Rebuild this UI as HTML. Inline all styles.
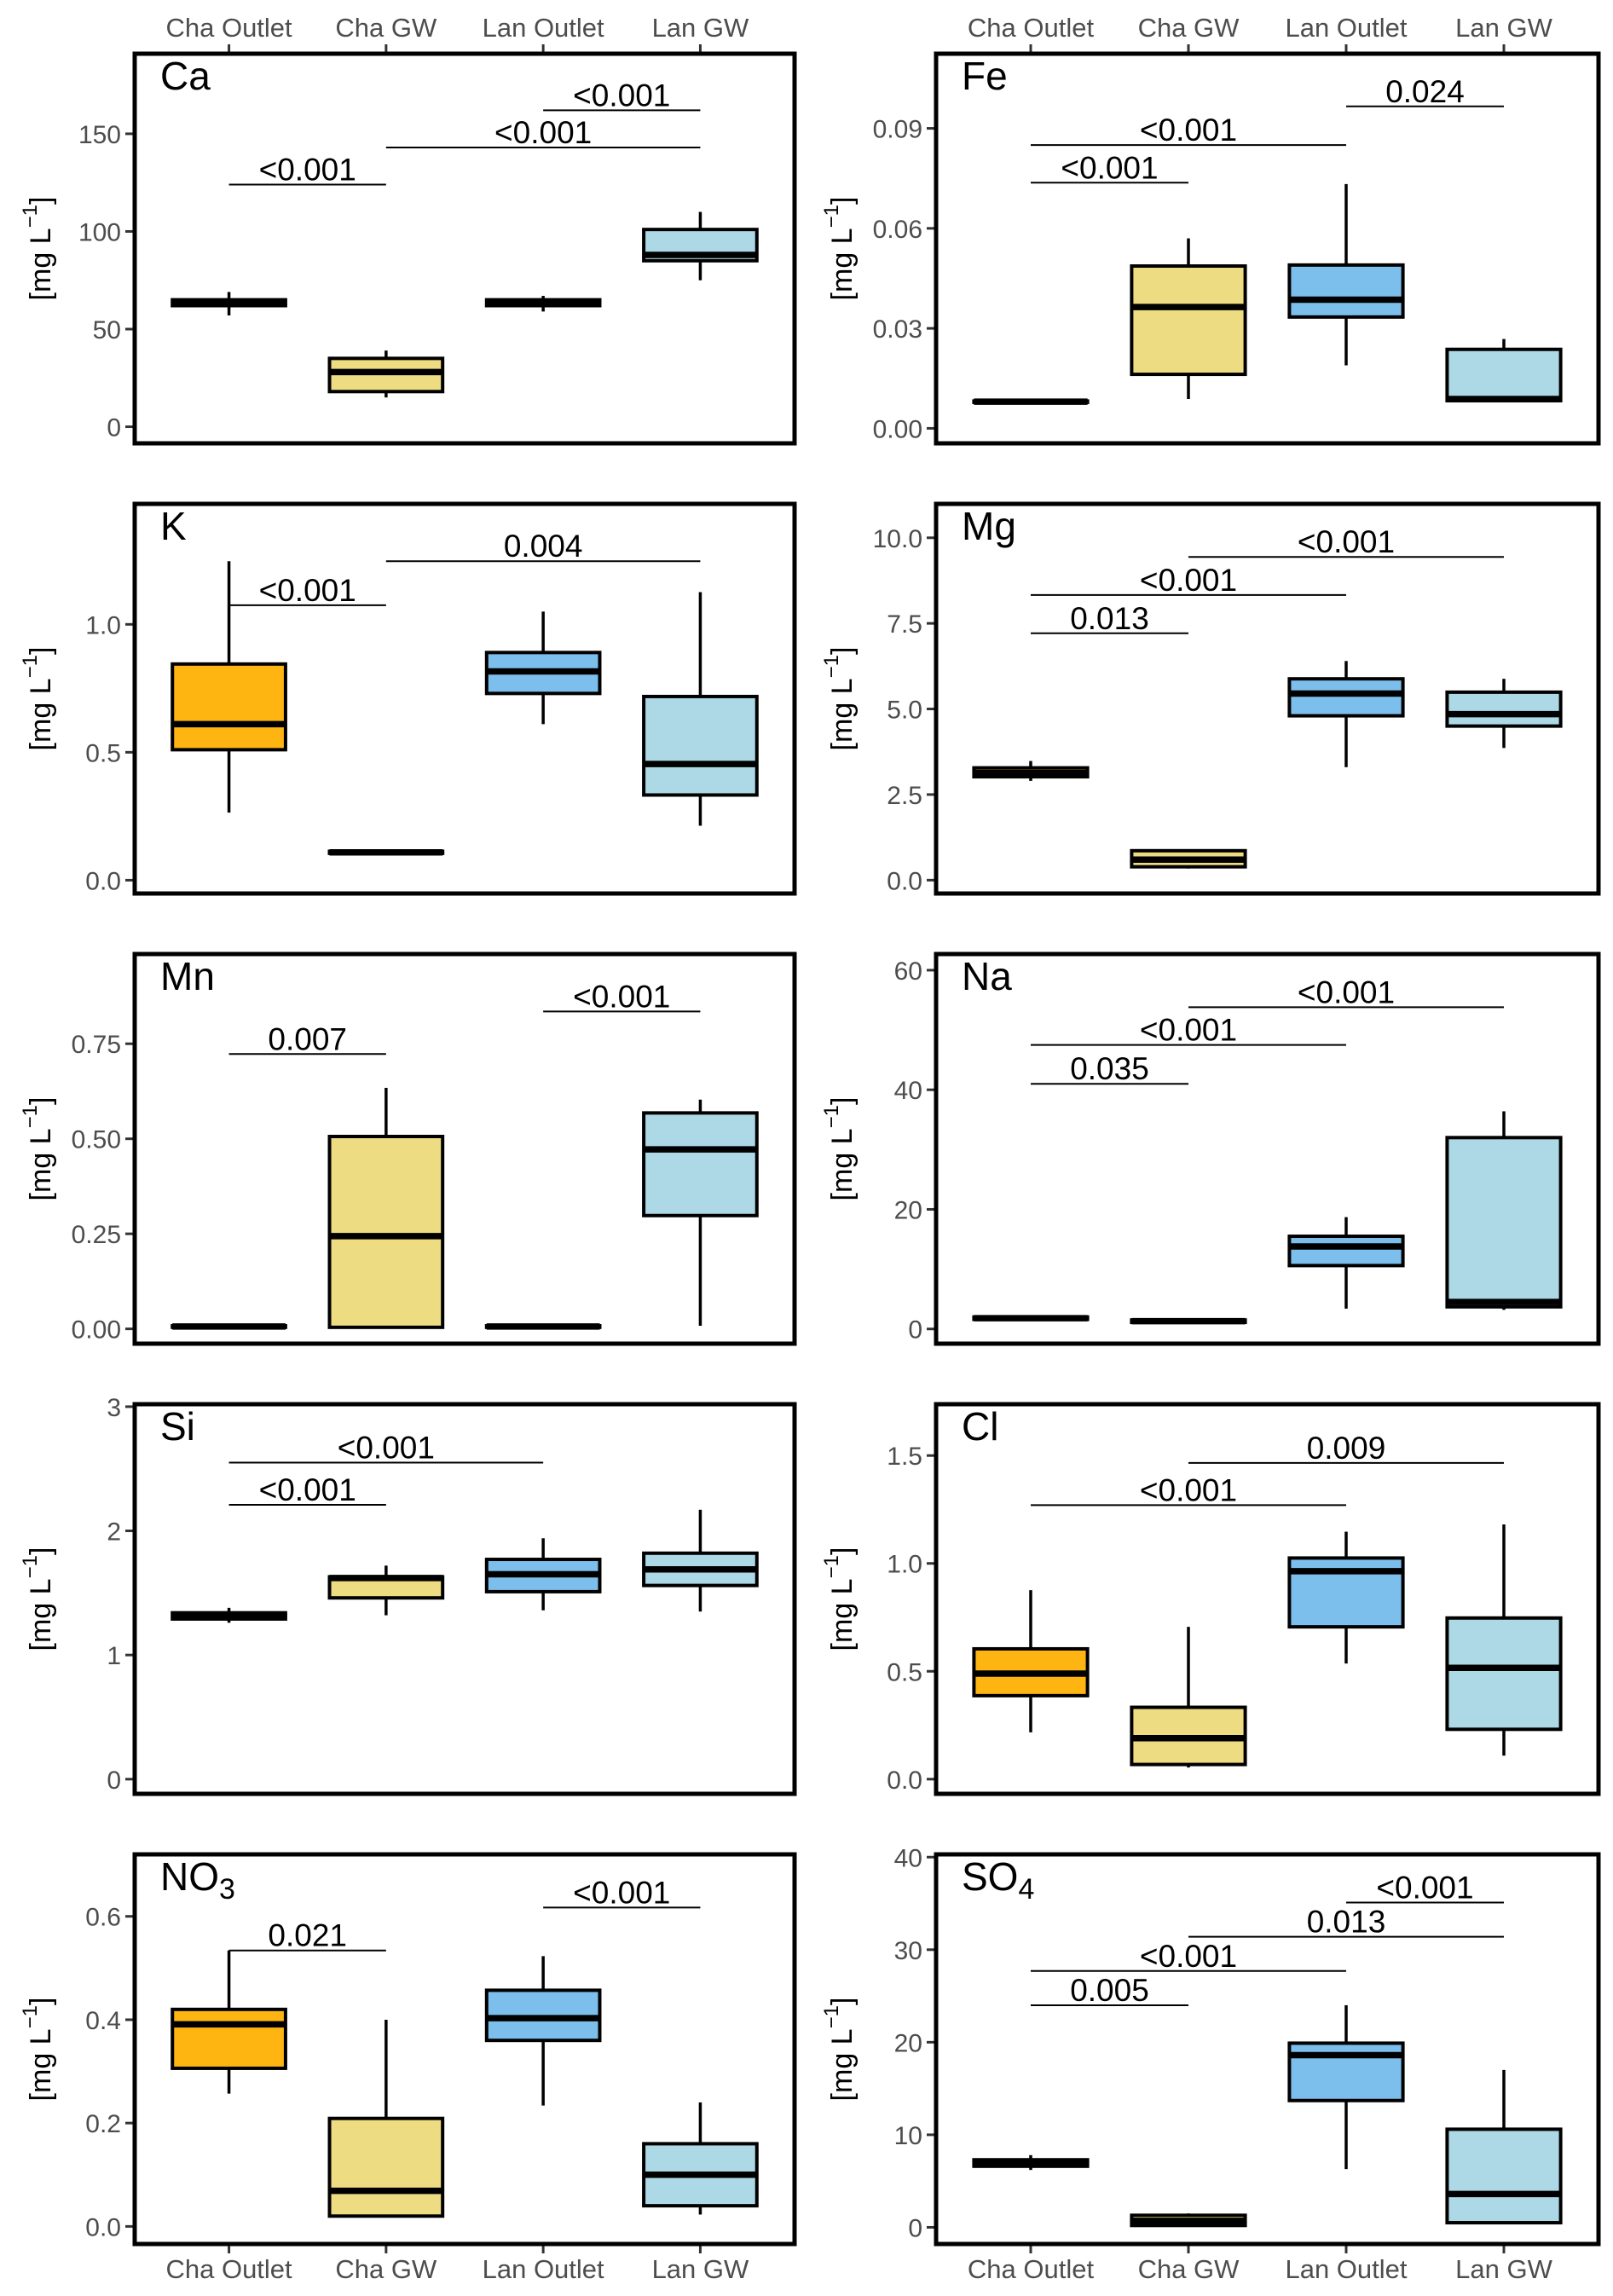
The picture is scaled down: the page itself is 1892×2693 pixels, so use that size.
<!DOCTYPE html>
<html><head><meta charset="utf-8">
<style>
html,body{margin:0;padding:0;background:#fff;}
svg{display:block;font-family:"Liberation Sans",sans-serif;}
</style></head>
<body>
<svg id="chart" width="1892" height="2693" viewBox="0 0 1892 2693" xmlns="http://www.w3.org/2000/svg"></svg>
<script>
const categories = ["Cha Outlet","Cha GW","Lan Outlet","Lan GW"];
const fills = ["#FFB511","#EEDC82","#7DBFEC","#ADD8E6"];

// five-number summaries per category: [lowWhisker, q1, median, q3, highWhisker]
const caBox = [[57,62,63,65,69],[15,18,28,35,39],[59,62,63,65,67],[75,85,88,101,110]];
const feBox = [[0.0078,0.0078,0.008,0.0082,0.0082],[0.0088,0.0162,0.0364,0.0487,0.057],[0.0189,0.0334,0.0386,0.049,0.0733],[0.0083,0.0083,0.0088,0.0237,0.0268]];
const kBox = [[0.264,0.51,0.61,0.845,1.247],[0.105,0.105,0.109,0.113,0.113],[0.61,0.73,0.816,0.89,1.05],[0.213,0.333,0.454,0.718,1.126]];
const mgBox = [[2.9,3.02,3.13,3.28,3.48],[0.34,0.39,0.6,0.86,0.9],[3.3,4.8,5.45,5.88,6.4],[3.86,4.5,4.85,5.49,5.88]];
const mnBox = [[0.004,0.004,0.006,0.008,0.008],[0.004,0.004,0.244,0.506,0.634],[0.004,0.004,0.006,0.008,0.008],[0.008,0.298,0.472,0.568,0.603]];
const naBox = [[1.5,1.6,1.8,2.0,2.1],[1.0,1.1,1.3,1.5,1.6],[3.4,10.6,13.8,15.5,18.7],[3.2,3.7,4.5,32,36.4]];
const siBox = [[1.26,1.29,1.31,1.34,1.38],[1.32,1.46,1.62,1.63,1.72],[1.36,1.51,1.65,1.77,1.94],[1.35,1.56,1.69,1.82,2.17]];
const clBox = [[0.217,0.387,0.489,0.604,0.876],[0.054,0.068,0.19,0.333,0.706],[0.536,0.706,0.964,1.025,1.147],[0.109,0.231,0.516,0.747,1.181]];
const no3Box = [[0.257,0.306,0.391,0.42,0.534],[0.02,0.02,0.069,0.209,0.4],[0.234,0.36,0.403,0.457,0.523],[0.023,0.04,0.1,0.16,0.24]];
const so4Box = [[6.2,6.6,7.0,7.3,7.8],[0.2,0.2,0.7,1.3,1.5],[6.3,13.7,18.6,19.9,24],[0.5,0.5,3.6,10.6,17]];

// y-axis ticks
const caTicks = [0,50,100,150];
const feTicks = [0,0.03,0.06,0.09];
const feTickLabels = ["0.00","0.03","0.06","0.09"];
const kTicks = [0,0.5,1.0];
const kTickLabels = ["0.0","0.5","1.0"];
const mgTicks = [0,2.5,5,7.5,10];
const mgTickLabels = ["0.0","2.5","5.0","7.5","10.0"];
const mnTicks = [0,0.25,0.5,0.75];
const mnTickLabels = ["0.00","0.25","0.50","0.75"];
const naTicks = [0,20,40,60];
const siTicks = [0,1,2,3];
const clTicks = [0,0.5,1.0,1.5];
const clTickLabels = ["0.0","0.5","1.0","1.5"];
const no3Ticks = [0,0.2,0.4,0.6];
const no3TickLabels = ["0.0","0.2","0.4","0.6"];
const so4Ticks = [0,10,20,30,40];

// significance brackets: [fromIndex, toIndex, yValue, label]
const caSig = [[0,1,124,"<0.001"],[1,3,143,"<0.001"],[2,3,162,"<0.001"]];
const feSig = [[0,1,0.0737,"<0.001"],[0,2,0.085,"<0.001"],[2,3,0.0966,"0.024"]];
const kSig = [[0,1,1.075,"<0.001"],[1,3,1.247,"0.004"]];
const mgSig = [[0,1,7.21,"0.013"],[0,2,8.33,"<0.001"],[1,3,9.44,"<0.001"]];
const mnSig = [[0,1,0.723,"0.007"],[2,3,0.835,"<0.001"]];
const naSig = [[0,1,41,"0.035"],[0,2,47.5,"<0.001"],[1,3,53.8,"<0.001"]];
const siSig = [[0,1,2.21,"<0.001"],[0,2,2.55,"<0.001"]];
const clSig = [[0,2,1.27,"<0.001"],[1,3,1.466,"0.009"]];
const no3Sig = [[0,1,0.534,"0.021"],[2,3,0.617,"<0.001"]];
const so4Sig = [[0,1,24,"0.005"],[0,2,27.7,"<0.001"],[1,3,31.4,"0.013"],[2,3,35.1,"<0.001"]];

// y domains
const caDomain = [-8.5,191];
const feDomain = [-0.0045,0.1124];
const kDomain = [-0.052,1.471];
const mgDomain = [-0.39,10.99];
const mnDomain = [-0.039,0.986];
const naDomain = [-2.46,62.7];
const siDomain = [-0.118,3.02];
const clDomain = [-0.068,1.738];
const no3Domain = [-0.034,0.72];
const so4Domain = [-1.8,40.3];

const panels = [
 {id:"ca", title:"Ca", sub:"", box:caBox, ticks:caTicks, labels:null, sig:caSig, dom:caDomain, col:0,row:0},
 {id:"fe", title:"Fe", sub:"", box:feBox, ticks:feTicks, labels:feTickLabels, sig:feSig, dom:feDomain, col:1,row:0},
 {id:"k", title:"K", sub:"", box:kBox, ticks:kTicks, labels:kTickLabels, sig:kSig, dom:kDomain, col:0,row:1},
 {id:"mg", title:"Mg", sub:"", box:mgBox, ticks:mgTicks, labels:mgTickLabels, sig:mgSig, dom:mgDomain, col:1,row:1},
 {id:"mn", title:"Mn", sub:"", box:mnBox, ticks:mnTicks, labels:mnTickLabels, sig:mnSig, dom:mnDomain, col:0,row:2},
 {id:"na", title:"Na", sub:"", box:naBox, ticks:naTicks, labels:null, sig:naSig, dom:naDomain, col:1,row:2},
 {id:"si", title:"Si", sub:"", box:siBox, ticks:siTicks, labels:null, sig:siSig, dom:siDomain, col:0,row:3},
 {id:"cl", title:"Cl", sub:"", box:clBox, ticks:clTicks, labels:clTickLabels, sig:clSig, dom:clDomain, col:1,row:3},
 {id:"no3", title:"NO", sub:"3", box:no3Box, ticks:no3Ticks, labels:no3TickLabels, sig:no3Sig, dom:no3Domain, col:0,row:4},
 {id:"so4", title:"SO", sub:"4", box:so4Box, ticks:so4Ticks, labels:null, sig:so4Sig, dom:so4Domain, col:1,row:4}
];

const NS = "http://www.w3.org/2000/svg";
const svg = document.getElementById("chart");
function mk(tag, attrs, parent){
  const e = document.createElementNS(NS, tag);
  for (const k in attrs) e.setAttribute(k, attrs[k]);
  (parent||svg).appendChild(e);
  return e;
}
const colX = [158,1098], colW = [774,777];
const rowY = [63,591,1119,1647,2175], H = 457;

panels.forEach(p => {
  const L = colX[p.col], W = colW[p.col], T = rowY[p.row], B = T + H;
  const step = W / 4.2;
  const xs = i => L + step*(0.6 + i);
  const ys = v => B - (v - p.dom[0])/(p.dom[1]-p.dom[0]) * H;
  const g = mk("g", {});
  
  

  // y ticks
  p.ticks.forEach((t, i) => {
    const y = ys(t);
    const tk = mk("line", {x1:L-11, x2:L, y1:y, y2:y, stroke:"#333", "stroke-width":3}, g);
    
    
    const tx = mk("text", {x:L-16, y:y+11, "text-anchor":"end", "font-size":30, fill:"#4D4D4D"}, g);
    
    
    tx.textContent = p.labels ? p.labels[i] : String(t);
  });

  // y axis title
  const yx = p.col === 0 ? 50 : 990, yc = T + H/2;
  const yt = mk("text", {x:yx, y:yc, transform:`rotate(-90 ${yx} ${yc})`, "text-anchor":"middle", "font-size":34, fill:"#000", "dominant-baseline":"middle"}, g);
  
  
  yt.innerHTML = '[mg L<tspan dy="-13" font-size="24">−1</tspan><tspan dy="13">]</tspan>';

  // x ticks/labels
  if (p.row === 0 || p.row === 4) {
    categories.forEach((c, i) => {
      const x = xs(i);
      const top = p.row === 0;
      const tk = mk("line", {x1:x, x2:x, y1: top ? T-11 : B, y2: top ? T : B+11, stroke:"#333", "stroke-width":3}, g);
      
      
      const tx = mk("text", {x:x, y: top ? 43 : 2672, "text-anchor":"middle", "font-size":31, fill:"#4D4D4D"}, g);
      
      
      tx.textContent = c;
    });
  }

  // boxes
  const bw = step * 0.72;
  p.box.forEach((b, i) => {
    const x = xs(i);
    const bg = mk("g", {}, g);
    
    
    mk("line", {x1:x, x2:x, y1:ys(b[0]), y2:ys(b[1]), stroke:"#000", "stroke-width":3.5}, bg);
    mk("line", {x1:x, x2:x, y1:ys(b[3]), y2:ys(b[4]), stroke:"#000", "stroke-width":3.5}, bg);
    const y3 = ys(b[3]), y1 = ys(b[1]);
    mk("rect", {x:x-bw/2, y:y3, width:bw, height:Math.max(0.5, y1-y3), fill:fills[i], stroke:"#000", "stroke-width":4}, bg);
    mk("line", {x1:x-bw/2, x2:x+bw/2, y1:ys(b[2]), y2:ys(b[2]), stroke:"#000", "stroke-width":7.5}, bg);
  });

  // significance brackets
  p.sig.forEach(s => {
    const y = ys(s[2]);
    const x1 = xs(s[0]), x2 = xs(s[1]);
    const sl = mk("line", {x1:x1, x2:x2, y1:y, y2:y, stroke:"#000", "stroke-width":2}, g);
    
    
    const st = mk("text", {x:(x1+x2)/2, y:y-5, "text-anchor":"middle", "font-size":37, fill:"#000"}, g);
    
    
    st.textContent = s[3];
  });

  // title
  const tt = mk("text", {x:L+30, y:T+42, "font-size":46, fill:"#000"}, g);
  
  
  tt.innerHTML = p.title + (p.sub ? `<tspan dy="10" font-size="34">${p.sub}</tspan>` : "");

  // border
  const br = mk("rect", {x:L, y:T, width:W, height:H, fill:"none", stroke:"#000", "stroke-width":5}, g);
  
  
});
</script>
</body></html>
